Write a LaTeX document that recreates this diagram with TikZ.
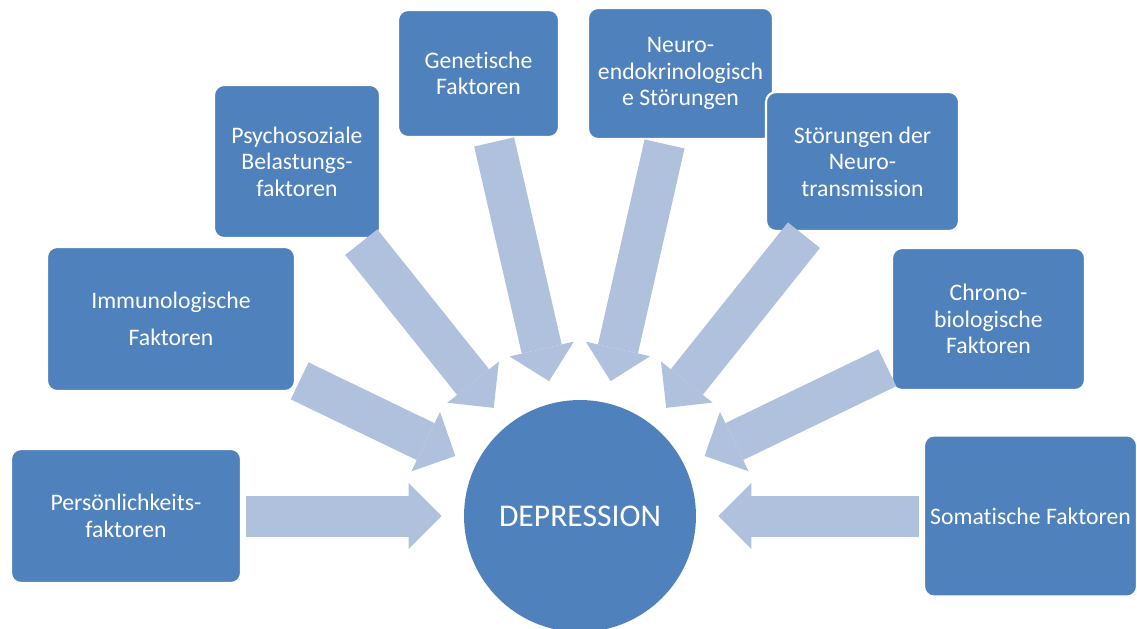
\documentclass[tikz,border=0pt]{standalone}
\usepackage{fontspec}
\setmainfont{Carlito}[Ligatures=NoCommon]
\usetikzlibrary{arrows.meta}
\definecolor{boxblue}{RGB}{79,129,189}
\definecolor{arrowblue}{RGB}{176,193,221}
\begin{document}
\begin{tikzpicture}[x=0.02cm,y=-0.02cm,
  factor/.style={rectangle,rounded corners=0.2cm,fill=boxblue,draw=white,line width=1.2pt,
    text=white,align=center,inner sep=0pt,font=\fontsize{13.5}{15}\selectfont},
  bigarrow/.style={draw=arrowblue,line width=0.82cm,
    -{Triangle[length=0.66cm,width=1.32cm,line width=0pt,fill=arrowblue]},
    shorten >=0.44cm,shorten <=0.08cm}]
\useasboundingbox (0,0) rectangle (1137,629);
\clip (0,0) rectangle (1137,629);
\node[circle,fill=boxblue,inner sep=0pt,minimum size=4.64cm,text=white,
  font=\fontsize{18}{20}\selectfont] (dep) at (580,516) {DEPRESSION};
\node[factor,minimum width=4.6cm,minimum height=2.68cm] (pers) at (126,516) {Persönlichkeits-\\faktoren};
\node[factor,minimum width=4.96cm,minimum height=2.88cm,font=\fontsize{13.5}{21}\selectfont] (immu) at (171,319) {Immunologische\\Faktoren};
\node[factor,minimum width=3.32cm,minimum height=3.06cm] (psych) at (297,161.5) {Psychosoziale\\Belastungs-\\faktoren};
\node[factor,minimum width=3.22cm,minimum height=2.54cm] (gene) at (478.5,73.5) {Genetische\\Faktoren};
\node[factor,minimum width=3.70cm,minimum height=2.62cm] (neuro) at (680.5,73.5) {Neuro-\\endokrinologisch\\e Störungen};
\node[factor,minimum width=3.86cm,minimum height=2.78cm] (trans) at (862.5,161.5) {Störungen der\\Neuro-\\transmission};
\node[factor,minimum width=3.86cm,minimum height=2.84cm] (chrono) at (988.5,319) {Chrono-\\biologische\\Faktoren};
\node[factor,minimum width=4.26cm,minimum height=3.22cm] (soma) at (1030.5,516) {Somatische Faktoren};
\draw[bigarrow] (pers) -- (dep);
\draw[bigarrow] (immu) -- (dep);
\draw[bigarrow] (psych) -- (dep);
\draw[bigarrow] (gene) -- (dep);
\draw[bigarrow] (neuro) -- (dep);
\draw[bigarrow] (trans) -- (dep);
\draw[bigarrow] (chrono) -- (dep);
\draw[bigarrow] (soma) -- (dep);
\end{tikzpicture}
\end{document}
